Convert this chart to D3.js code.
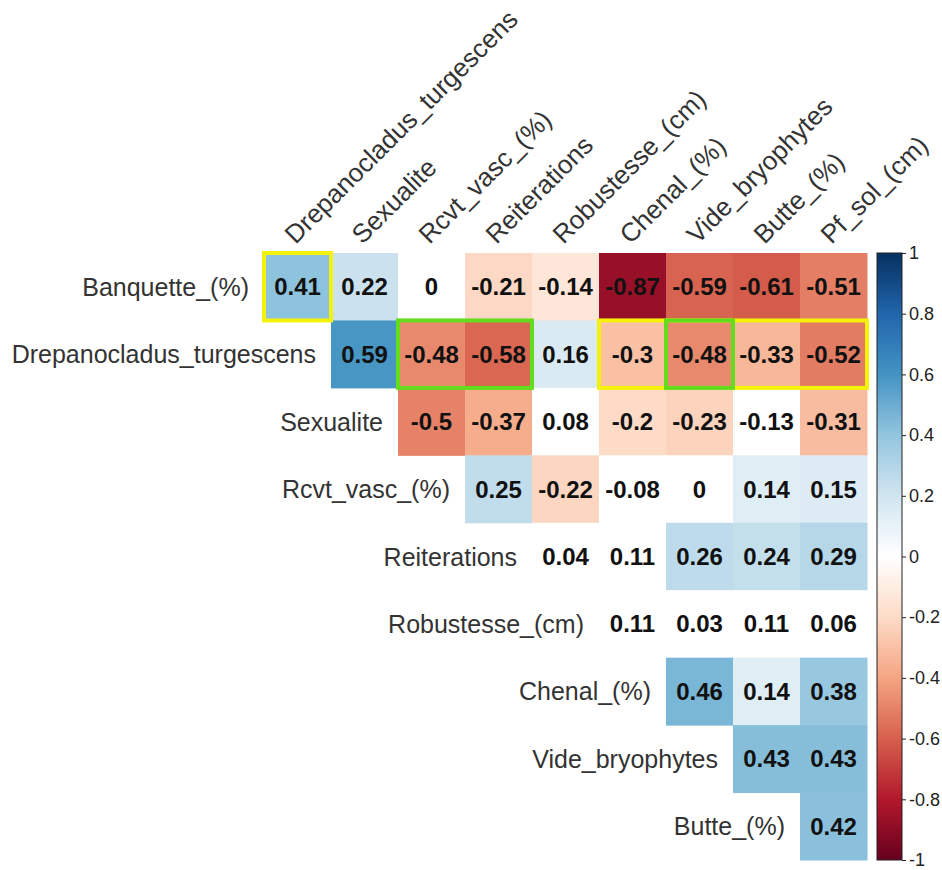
<!DOCTYPE html>
<html>
<head>
<meta charset="utf-8">
<script src="https://cdn.jsdelivr.net/npm/d3@7"></script>
<style>
  body { margin: 0; background: #fff; }
  svg { display: block; }
  text { font-family: "Liberation Sans", Arial, sans-serif; }
</style>
</head>
<body>
<svg id="chart" width="942" height="870"></svg>
<script>
// Variables (rows of the upper-triangle correlation matrix)
const rowNames = ["Banquette_(%)", "Drepanocladus_turgescens", "Sexualite", "Rcvt_vasc_(%)",
  "Reiterations", "Robustesse_(cm)", "Chenal_(%)", "Vide_bryophytes", "Butte_(%)"];
const colNames = ["Drepanocladus_turgescens", "Sexualite", "Rcvt_vasc_(%)", "Reiterations",
  "Robustesse_(cm)", "Chenal_(%)", "Vide_bryophytes", "Butte_(%)", "Pf_sol_(cm)"];

// Correlation coefficients: row i holds columns i .. 8
const corrRows = [
  [0.41, 0.22, 0, -0.21, -0.14, -0.87, -0.59, -0.61, -0.51],
  [0.59, -0.48, -0.58, 0.16, -0.3, -0.48, -0.33, -0.52],
  [-0.5, -0.37, 0.08, -0.2, -0.23, -0.13, -0.31],
  [0.25, -0.22, -0.08, 0, 0.14, 0.15],
  [0.04, 0.11, 0.26, 0.24, 0.29],
  [0.11, 0.03, 0.11, 0.06],
  [0.46, 0.14, 0.38],
  [0.43, 0.43],
  [0.42]
];

// 1 = significant (cell filled), 0 = left blank; same shape as corrRows
const signifRows = [
  [1, 1, 0, 1, 1, 1, 1, 1, 1],
  [1, 1, 1, 1, 1, 1, 1, 1],
  [1, 1, 0, 1, 1, 0, 1],
  [1, 1, 0, 0, 1, 1],
  [0, 0, 1, 1, 1],
  [0, 0, 0, 0],
  [1, 1, 1],
  [1, 1],
  [1]
];

// Outlined groups of cells: row name, first and last column, outline colour
const highlightRows = ["Banquette_(%)", "Drepanocladus_turgescens", "Drepanocladus_turgescens", "Drepanocladus_turgescens"];
const highlightFrom = ["Drepanocladus_turgescens", "Rcvt_vasc_(%)", "Chenal_(%)", "Vide_bryophytes"];
const highlightTo   = ["Drepanocladus_turgescens", "Reiterations", "Pf_sol_(cm)", "Vide_bryophytes"];
const highlightColor = ["#f4f20a", "#62dc1c", "#f4f20a", "#62dc1c"];

const legendTicks = [1, 0.8, 0.6, 0.4, 0.2, 0, -0.2, -0.4, -0.6, -0.8, -1];

// RdBu diverging palette from -1 to 1
const paletteStops = ["#67001F", "#B2182B", "#D6604D", "#F4A582", "#FDDBC7", "#FFFFFF",
  "#D1E5F0", "#92C5DE", "#4393C3", "#2166AC", "#053061"];
const color = d3.scaleLinear()
  .domain(d3.range(11).map(i => -1 + i * 0.2))
  .range(paletteStops)
  .interpolate(d3.interpolateRgb);

// Plain hyphen-minus for negative numbers
const fmt = v => String(+v.toFixed(2));

const svg = d3.select("#chart");

const x = d3.scaleBand().domain(colNames).range([264, 867]);
const y = d3.scaleBand().domain(rowNames).range([253, 860]);

const cells = [];
corrRows.forEach((vals, i) => {
  vals.forEach((v, k) => {
    cells.push({ row: rowNames[i], col: colNames[i + k], value: v, signif: signifRows[i][k] });
  });
});

// Cells
svg.append("g").selectAll("rect")
  .data(cells)
  .join("rect")
  .attr("x", d => x(d.col))
  .attr("y", d => y(d.row))
  .attr("width", x.bandwidth() + 0.5)
  .attr("height", y.bandwidth() + 0.5)
  .attr("fill", d => d.signif ? color(d.value) : "#ffffff");

// Coefficients
svg.append("g").selectAll("text")
  .data(cells)
  .join("text")
  .attr("x", d => x(d.col) + x.bandwidth() / 2)
  .attr("y", d => y(d.row) + y.bandwidth() / 2)
  .attr("text-anchor", "middle")
  .attr("dominant-baseline", "central")
  .attr("font-size", 24)
  .attr("font-weight", "bold")
  .attr("fill", "#111")
  .text(d => fmt(d.value));

// Row labels, right-aligned before the first cell of each row
svg.append("g").selectAll("text")
  .data(rowNames)
  .join("text")
  .attr("x", (d, i) => x(colNames[i]) - 15)
  .attr("y", d => y(d) + y.bandwidth() / 2)
  .attr("text-anchor", "end")
  .attr("dominant-baseline", "central")
  .attr("font-size", 25)
  .attr("fill", "#333")
  .text(d => d);

// Column labels, rotated 45 degrees
svg.append("g").selectAll("text")
  .data(colNames)
  .join("text")
  .attr("transform", d => `translate(${x(d) + x.bandwidth() / 2 - 2},${y.range()[0] - 8}) rotate(-45)`)
  .attr("text-anchor", "start")
  .attr("font-size", 26)
  .attr("fill", "#333")
  .text(d => d);

// Outlined groups
const boxes = highlightRows.map((r, i) => ({ row: r, from: highlightFrom[i], to: highlightTo[i], color: highlightColor[i] }));
svg.append("g").selectAll("rect")
  .data(boxes)
  .join("rect")
  .attr("x", d => x(d.from))
  .attr("y", d => y(d.row))
  .attr("width", d => x(d.to) + x.bandwidth() - x(d.from))
  .attr("height", y.bandwidth())
  .attr("fill", "none")
  .attr("stroke", d => d.color)
  .attr("stroke-width", 4);

// Colour legend
const legTop = 253, legBottom = 860, legX = 877, legW = 25;
const legY = d3.scaleLinear().domain([-1, 1]).range([legBottom, legTop]);
const defs = svg.append("defs");
const grad = defs.append("linearGradient")
  .attr("id", "legendGrad")
  .attr("x1", 0).attr("x2", 0).attr("y1", 1).attr("y2", 0);
grad.selectAll("stop")
  .data(d3.range(0, 1.0001, 0.05))
  .join("stop")
  .attr("offset", d => d)
  .attr("stop-color", d => color(-1 + 2 * d));

svg.append("rect")
  .attr("x", legX)
  .attr("y", legTop)
  .attr("width", legW)
  .attr("height", legBottom - legTop)
  .attr("fill", "url(#legendGrad)")
  .attr("stroke", "#222")
  .attr("stroke-width", 1);

const legAxis = d3.axisRight(legY)
  .tickValues(legendTicks)
  .tickSize(4)
  .tickFormat(fmt);
const legG = svg.append("g")
  .attr("transform", `translate(${legX + legW},0)`)
  .call(legAxis);
legG.select(".domain").remove();
legG.selectAll(".tick line").attr("stroke", "#222");
legG.selectAll(".tick text")
  .attr("x", 7)
  .attr("font-size", 18)
  .attr("font-family", "'Liberation Sans', Arial, sans-serif")
  .attr("fill", "#222");
</script>
</body>
</html>
